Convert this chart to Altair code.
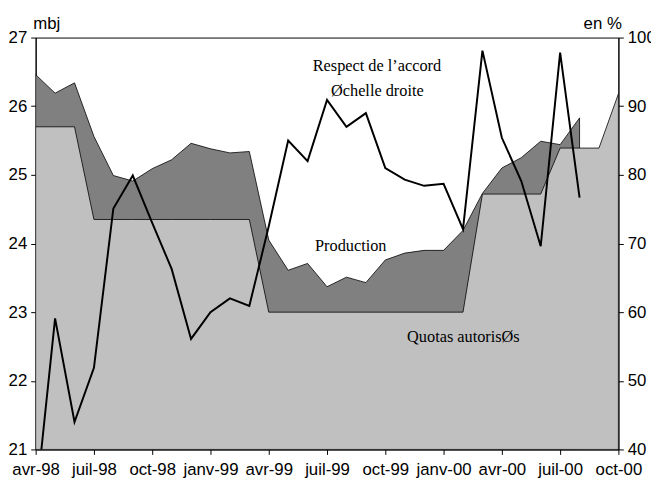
import altair as alt
import pandas as pd

# Quarterly tick labels (month index 0 = avr-98, one tick every 3 months)
tick_labels = ["avr-98", "juil-98", "oct-98", "janv-99", "avr-99", "juil-99",
               "oct-99", "janv-00", "avr-00", "juil-00", "oct-00"]

# Production (mbj), monthly from avr-98 to août-00
production = [26.46, 26.19, 26.34, 25.56, 24.99, 24.91, 25.09, 25.22, 25.46, 25.38,
              25.32, 25.34, 24.05, 23.61, 23.71, 23.37, 23.51, 23.43, 23.76, 23.86,
              23.90, 23.90, 24.19, 24.73, 25.10, 25.25, 25.49, 25.44, 25.83]

# Quotas autorisés (mbj), monthly from avr-98 to oct-00
quotas = [25.70, 25.70, 25.70, 24.35, 24.35, 24.35, 24.35, 24.35, 24.35, 24.35,
          24.35, 24.35, 23.00, 23.00, 23.00, 23.00, 23.00, 23.00, 23.00, 23.00,
          23.00, 23.00, 23.00, 24.72, 24.72, 24.72, 24.72, 25.39, 25.39, 25.39,
          26.18]

# Respect de l'accord (%), monthly from avr-98 to août-00
respect = [32.0, 59.1, 44.0, 51.9, 75.1, 79.9, 73.0, 66.3, 56.1, 60.0,
           62.0, 60.9, 72.5, 85.0, 82.0, 90.9, 87.0, 89.0, 81.0, 79.3,
           78.4, 78.7, 72.1, 98.1, 85.4, 79.1, 69.6, 97.8, 76.7]

# Annotations (text, month position, value on left scale)
ann_text = ["Respect de l\u2019accord", "\u00d8chelle droite", "Production", "Quotas autoris\u00d8s"]
ann_m = [17.57, 17.59, 16.22, 22.02]
ann_v = [26.507, 26.151, 23.892, 22.568]

prod_df = pd.DataFrame({"m": list(range(len(production))), "v": production})
quota_df = pd.DataFrame({"m": list(range(len(quotas))), "v": quotas})
resp_df = pd.DataFrame({"m": list(range(len(respect))), "pct": respect})
ann_df = pd.DataFrame({"m": ann_m, "v": ann_v, "t": ann_text})

SANS = "Liberation Sans Narrow, Liberation Sans, Arial"
SERIF = "Liberation Serif, Times New Roman"

label_expr = "[" + ",".join("'" + t + "'" for t in tick_labels) + "][round(datum.value/3)]"

x_enc = alt.X(
    "m:Q",
    scale=alt.Scale(domain=[0, 30], nice=False, zero=False),
    axis=alt.Axis(values=list(range(0, 31, 3)), labelExpr=label_expr, title=None,
                  grid=False, tickSize=5, labelPadding=7, labelFlush=False,
                  labelOverlap=False),
)

yscale = alt.Scale(domain=[21, 27], nice=False, zero=False)
left_axis = alt.Axis(orient="left", values=[21, 22, 23, 24, 25, 26, 27], format="d",
                     title="mbj", titleAngle=0, titleAlign="left", titleBaseline="alphabetic",
                     titleX=-3, titleY=-9, grid=False, tickSize=5, labelPadding=4)

prod_area = alt.Chart(prod_df).mark_area(
    color="#808080", stroke="black", strokeWidth=0.8, clip=True
).encode(x=x_enc, y=alt.Y("v:Q", scale=yscale, axis=left_axis), y2=alt.datum(21))

quota_area = alt.Chart(quota_df).mark_area(
    color="#c0c0c0", stroke="black", strokeWidth=0.8, clip=True
).encode(x=x_enc, y=alt.Y("v:Q", scale=yscale, axis=left_axis), y2=alt.datum(21))

labels = alt.Chart(ann_df).mark_text(
    font=SERIF, fontSize=16.5, align="center", baseline="alphabetic", color="black"
).encode(x=x_enc, y=alt.Y("v:Q", scale=yscale, axis=left_axis), text="t:N")

left_layer = alt.layer(prod_area, quota_area, labels)

line = alt.Chart(resp_df).mark_line(color="black", strokeWidth=2, clip=True).encode(
    x=x_enc,
    y=alt.Y("pct:Q", scale=alt.Scale(domain=[40, 100], nice=False, zero=False),
            axis=alt.Axis(orient="right", values=[40, 50, 60, 70, 80, 90, 100], format="d",
                          title="en %", titleAngle=0, titleAlign="right",
                          titleBaseline="alphabetic", titleX=3, titleY=-9,
                          grid=False, tickSize=5, labelPadding=4)),
)

chart = alt.layer(left_layer, line).resolve_scale(y="independent").properties(
    width=590, height=417,
    padding={"left": 28, "top": 27, "right": 33, "bottom": 28},
    autosize=alt.AutoSizeParams(type="none"),
).configure_view(
    stroke="black", strokeWidth=1
).configure_axis(
    domainColor="black", tickColor="black", labelColor="black", titleColor="black",
    labelFont=SANS, titleFont=SANS, labelFontSize=17, titleFontSize=17,
    titleFontWeight="normal", domainWidth=1, tickWidth=1,
)

chart.save("out.html", embed_options={"renderer": "svg", "actions": False})
